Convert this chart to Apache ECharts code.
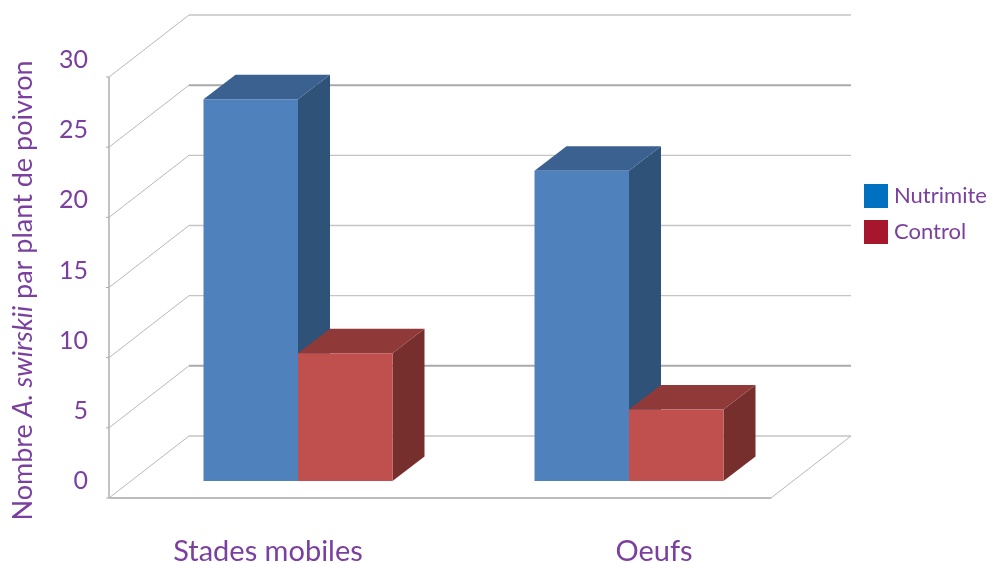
<!DOCTYPE html>
<html><head><meta charset="utf-8">
<style>html,body{margin:0;padding:0;background:#fff}#c{width:990px;height:563px}</style>
<script src="https://cdn.jsdelivr.net/npm/echarts@6/dist/echarts.min.js"></script>
</head><body><div id="c"></div>
<script>
const categories = ['Stades mobiles', 'Oeufs'];
const nutrimite = [27.2, 22.1];
const control = [9.1, 5.1];
const tickValues = [0, 5, 10, 15, 20, 25, 30];
const seriesNames = ['Nutrimite', 'Control'];
const legendColors = ['#0070c0', '#a6172d'];
const faces = [
  {front: '#4f81bd', top: '#3a6190', side: '#2f5279'},
  {front: '#c0504d', top: '#8f3a38', side: '#772f2d'}
];
const TEXT = '#7a3f9f', FONT = 'Lato';
const GRID = {left: 109, width: 662, top: 60, height: 421, outerBoundsMode: 'none'};
const FRONT_DY = 17, BACK_DX = 80, BACK_DY = -45;   // wall offsets from the bar plane
const BAR_SHIFT = 23.5, DEPTH_X = 32, DEPTH_Y = -24.5, BAR_FRAC = 0.2855;

const chart = echarts.init(document.getElementById('c'));

function renderWall(params, api) {
  const v = api.value(0);
  const band = api.size([1, 0])[0];
  const p = api.coord([0, v]);
  const xl = p[0] - band / 2, xr = xl + band * 2, y = p[1];
  const heavy = v === 5 || v === 25;
  const lineStyle = {stroke: '#b8b8b8', lineWidth: 1, fill: null};
  const children = [
    {type: 'line', shape: {x1: xl, y1: y + FRONT_DY, x2: xl + BACK_DX, y2: y + BACK_DY}, style: lineStyle},
    {type: 'line', shape: {x1: xl + BACK_DX, y1: y + BACK_DY, x2: xr + BACK_DX, y2: y + BACK_DY},
      style: {stroke: heavy ? '#aaaaaa' : '#c4c4c4', lineWidth: heavy ? 2 : 1.4}},
    {type: 'line', shape: {x1: xl - 3, y1: y + FRONT_DY, x2: xl, y2: y + FRONT_DY}, style: {stroke: '#aaaaaa', lineWidth: 1}}
  ];
  if (v === 0) {
    children.push(
      {type: 'line', shape: {x1: xl, y1: y + FRONT_DY, x2: xr, y2: y + FRONT_DY}, style: {stroke: '#bcbcbc', lineWidth: 2}},
      {type: 'line', shape: {x1: xr, y1: y + FRONT_DY, x2: xr + BACK_DX, y2: y + BACK_DY}, style: lineStyle},
      {type: 'line', shape: {x1: xl, y1: y + FRONT_DY, x2: xl, y2: api.coord([0, tickValues[tickValues.length - 1]])[1] + FRONT_DY},
        style: {stroke: '#b4b4b4', lineWidth: 1.6}}
    );
  }
  return {type: 'group', children};
}

function makeBar(idx) {
  return function (params, api) {
    const cat = api.value(0);
    const top = api.coord([cat, api.value(1)]);
    const base = api.coord([cat, 0]);
    const w = api.size([1, 0])[0] * BAR_FRAC;
    const cx = top[0] + BAR_SHIFT;
    const x0 = idx === 0 ? cx - w : cx, x1 = x0 + w;
    const f = faces[idx];
    const poly = (pts, fill) => ({type: 'polygon', shape: {points: pts}, style: {fill}});
    return {type: 'group', children: [
      poly([[x1, top[1]], [x1 + DEPTH_X, top[1] + DEPTH_Y], [x1 + DEPTH_X, base[1] + DEPTH_Y], [x1, base[1]]], f.side),
      poly([[x0, top[1]], [x0 + DEPTH_X, top[1] + DEPTH_Y], [x1 + DEPTH_X, top[1] + DEPTH_Y], [x1, top[1]]], f.top),
      {type: 'rect', shape: {x: x0, y: top[1], width: w, height: base[1] - top[1]}, style: {fill: f.front}}
    ]};
  };
}

chart.setOption({
  animation: false,
  backgroundColor: '#ffffff',
  textStyle: {fontFamily: FONT},
  grid: GRID,
  legend: {
    data: seriesNames, orient: 'vertical', left: 859, top: 179,
    itemWidth: 24, itemHeight: 24, itemGap: 12, icon: 'rect', selectedMode: false,
    textStyle: {color: TEXT, fontFamily: FONT, fontSize: 22, padding: [0, 0, 0, 1]}
  },
  xAxis: {
    type: 'category', data: categories,
    axisLine: {show: false}, axisTick: {show: false}, splitLine: {show: false},
    axisLabel: {
      margin: 56, interval: 0, color: TEXT, fontFamily: FONT, fontSize: 29,
      formatter: (val, i) => '{c' + i + '|' + val + '}',
      rich: {
        c0: {color: TEXT, fontFamily: FONT, fontSize: 29, padding: [0, 13, 0, 0]},
        c1: {color: TEXT, fontFamily: FONT, fontSize: 29, padding: [0, 0, 0, 97]}
      }
    }
  },
  yAxis: {
    type: 'value', min: 0, max: 30, interval: 5,
    axisLine: {show: false}, axisTick: {show: false}, splitLine: {show: false},
    axisLabel: {color: TEXT, fontFamily: FONT, fontSize: 25, margin: 21, padding: [0, 0, 4, 0], align: 'right'},
    name: 'Nombre {i|A. swirskii} par plant de poivron',
    nameLocation: 'middle', nameRotate: 90, nameGap: 72,
    nameTextStyle: {
      color: TEXT, fontFamily: FONT, fontSize: 27, padding: [0, 40, 0, 0],
      rich: {i: {color: TEXT, fontFamily: FONT, fontSize: 27, fontStyle: 'italic'}}
    }
  },
  series: [
    {type: 'custom', name: 'wall', z: 1, silent: true, renderItem: renderWall,
      data: tickValues.map(v => [v]), encode: {y: 0}},
    {type: 'custom', name: seriesNames[0], z: 2, itemStyle: {color: legendColors[0]}, renderItem: makeBar(0),
      data: nutrimite.map((v, i) => [i, v]), encode: {x: 0, y: 1}},
    {type: 'custom', name: seriesNames[1], z: 3, itemStyle: {color: legendColors[1]}, renderItem: makeBar(1),
      data: control.map((v, i) => [i, v]), encode: {x: 0, y: 1}}
  ]
});
</script></body></html>
